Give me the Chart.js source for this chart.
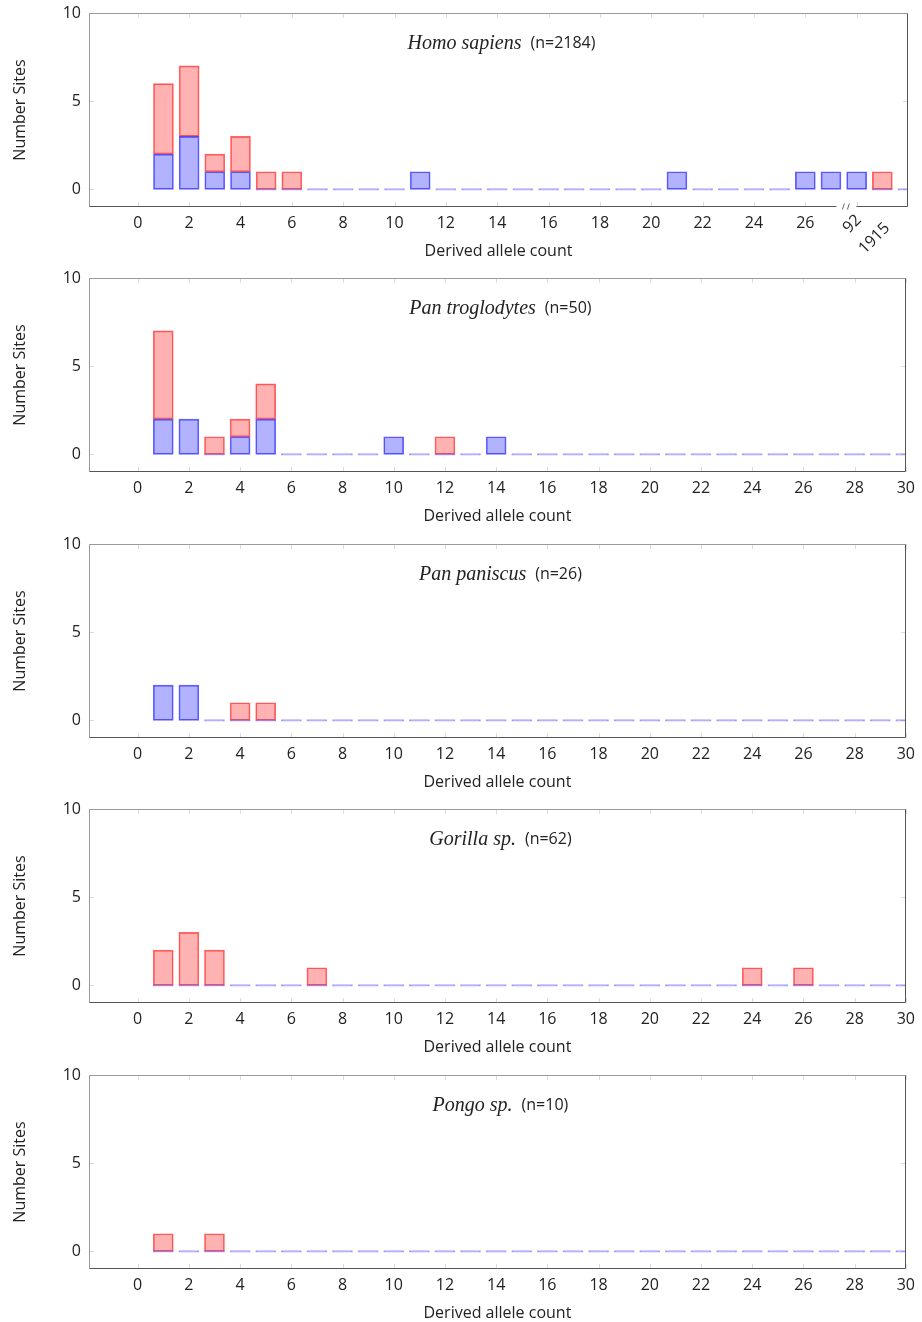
<!DOCTYPE html>
<html>
<head>
<meta charset="utf-8">
<script src="https://cdn.jsdelivr.net/npm/chart.js@4.4.1/dist/chart.umd.min.js"></script>
<style>
  html, body { margin: 0; padding: 0; background: #fff; }
  .panel { position: absolute; left: 0; width: 922px; height: 265px; }
</style>
</head>
<body>
<div class="panel" style="top:0px"><canvas id="c0" width="922" height="265"></canvas></div>
<div class="panel" style="top:265px"><canvas id="c1" width="922" height="265"></canvas></div>
<div class="panel" style="top:531px"><canvas id="c2" width="922" height="265"></canvas></div>
<div class="panel" style="top:796px"><canvas id="c3" width="922" height="265"></canvas></div>
<div class="panel" style="top:1062px"><canvas id="c4" width="922" height="265"></canvas></div>
<script>
// bin positions (derived allele count) and axis ticks
const positions = [1, 2, 3, 4, 5, 6, 7, 8, 9, 10, 11, 12, 13, 14, 15, 16, 17, 18, 19, 20, 21, 22, 23, 24, 25, 26, 27, 28, 29, 30];
const xTickValues = [0, 2, 4, 6, 8, 10, 12, 14, 16, 18, 20, 22, 24, 26, 28, 30];
const xTickValuesBroken = [0, 2, 4, 6, 8, 10, 12, 14, 16, 18, 20, 22, 24, 26, 28];
const yTickValues = [0, 5, 10];
// top panel: positions 28 and 29 stand for much higher counts
const brokenTickValues = [28, 29];
const brokenTickLabels = ["92", "1915"];

const speciesNames = ["Homo sapiens", "Pan troglodytes", "Pan paniscus", "Gorilla sp.", "Pongo sp."];
const sampleSizes = ["(n=2184)", "(n=50)", "(n=26)", "(n=62)", "(n=10)"];

// blue = lower stack, red = upper stack
const homoBlue = [2, 3, 1, 1, 0, 0, 0, 0, 0, 0, 1, 0, 0, 0, 0, 0, 0, 0, 0, 0, 1, 0, 0, 0, 0, 1, 1, 1, 0, 0];
const homoRed  = [4, 4, 1, 2, 1, 1, 0, 0, 0, 0, 0, 0, 0, 0, 0, 0, 0, 0, 0, 0, 0, 0, 0, 0, 0, 0, 0, 0, 1, 0];
const panTroBlue = [2, 2, 0, 1, 2, 0, 0, 0, 0, 1, 0, 0, 0, 1, 0, 0, 0, 0, 0, 0, 0, 0, 0, 0, 0, 0, 0, 0, 0, 0];
const panTroRed  = [5, 0, 1, 1, 2, 0, 0, 0, 0, 0, 0, 1, 0, 0, 0, 0, 0, 0, 0, 0, 0, 0, 0, 0, 0, 0, 0, 0, 0, 0];
const panPanBlue = [2, 2, 0, 0, 0, 0, 0, 0, 0, 0, 0, 0, 0, 0, 0, 0, 0, 0, 0, 0, 0, 0, 0, 0, 0, 0, 0, 0, 0, 0];
const panPanRed  = [0, 0, 0, 1, 1, 0, 0, 0, 0, 0, 0, 0, 0, 0, 0, 0, 0, 0, 0, 0, 0, 0, 0, 0, 0, 0, 0, 0, 0, 0];
const gorillaBlue = [0, 0, 0, 0, 0, 0, 0, 0, 0, 0, 0, 0, 0, 0, 0, 0, 0, 0, 0, 0, 0, 0, 0, 0, 0, 0, 0, 0, 0, 0];
const gorillaRed  = [2, 3, 2, 0, 0, 0, 1, 0, 0, 0, 0, 0, 0, 0, 0, 0, 0, 0, 0, 0, 0, 0, 0, 1, 0, 1, 0, 0, 0, 0];
const pongoBlue = [0, 0, 0, 0, 0, 0, 0, 0, 0, 0, 0, 0, 0, 0, 0, 0, 0, 0, 0, 0, 0, 0, 0, 0, 0, 0, 0, 0, 0, 0];
const pongoRed  = [1, 0, 1, 0, 0, 0, 0, 0, 0, 0, 0, 0, 0, 0, 0, 0, 0, 0, 0, 0, 0, 0, 0, 0, 0, 0, 0, 0, 0, 0];

const SANS = "'Open Sans', 'Noto Sans', sans-serif";
const SERIF = "'Liberation Serif', 'DejaVu Serif', serif";
const TEXT = "#222";

// frame, inner tick marks, axis break, panel title
const framePlugin = {
  id: "frame",
  beforeDatasetsDraw(chart) {
    const { ctx, chartArea: a, scales: { x, y } } = chart;
    ctx.save();
    ctx.strokeStyle = "#dcdcdc";
    ctx.lineWidth = 1;
    ctx.beginPath();
    for (const t of x.ticks) {
      const px = Math.round(x.getPixelForValue(t.value)) + 0.5;
      ctx.moveTo(px, a.top); ctx.lineTo(px, a.top + 5);
      ctx.moveTo(px, a.bottom); ctx.lineTo(px, a.bottom - 5);
    }
    for (const t of y.ticks) {
      const py = Math.round(y.getPixelForValue(t.value)) + 0.5;
      ctx.moveTo(a.left, py); ctx.lineTo(a.left + 5, py);
      ctx.moveTo(a.right, py); ctx.lineTo(a.right - 5, py);
    }
    ctx.stroke();
    ctx.restore();
  },
  afterDatasetsDraw(chart, args, opts) {
    const { ctx, chartArea: a, scales: { x } } = chart;
    const L = Math.round(a.left) + 0.5, R = Math.round(a.right) - 0.5;
    const T = Math.round(a.top) + 0.5, B = Math.round(a.bottom) - 0.5;
    ctx.save();
    ctx.lineWidth = 1;
    ctx.strokeStyle = "#9a9a9a";
    ctx.beginPath();
    ctx.moveTo(L, B); ctx.lineTo(L, T); ctx.lineTo(R, T);
    ctx.stroke();
    ctx.strokeStyle = "#555";
    ctx.beginPath();
    ctx.moveTo(R, T); ctx.lineTo(R, B);
    if (opts.broken) {
      const bx = x.getPixelForValue(27.6);
      ctx.lineTo(bx + 10, B);
      ctx.moveTo(bx - 10, B); ctx.lineTo(L, B);
    } else {
      ctx.lineTo(L, B);
    }
    ctx.stroke();

    if (opts.broken) {
      const bx = x.getPixelForValue(27.6);
      ctx.strokeStyle = "#666";
      ctx.beginPath();
      ctx.moveTo(bx - 4, B + 3); ctx.lineTo(bx - 2, B - 3);
      ctx.moveTo(bx + 1, B + 3); ctx.lineTo(bx + 3, B - 3);
      ctx.stroke();
      ctx.fillStyle = TEXT;
      ctx.font = "16px " + SANS;
      ctx.textAlign = "right";
      ctx.textBaseline = "middle";
      brokenTickValues.forEach((v, i) => {
        const px = x.getPixelForValue(v);
        ctx.save();
        ctx.translate(px + 2 + 3 * i, B + 11 + 8 * i);
        ctx.rotate(-Math.PI / 4);
        ctx.fillText(brokenTickLabels[i], 0, 0);
        ctx.restore();
      });
    }

    // title: italic species name + sample size
    const cx = (a.left + a.right) / 2 + 3;
    const ty = a.top + 30;
    ctx.textBaseline = "alphabetic";
    ctx.textAlign = "left";
    const f1 = "italic 20px " + SERIF, f2 = "16px " + SANS;
    ctx.font = f1; const w1 = ctx.measureText(opts.name).width;
    ctx.font = f2; const w2 = ctx.measureText(opts.n).width;
    const gap = 9;
    const sx = cx - (w1 + gap + w2) / 2;
    ctx.fillStyle = TEXT;
    ctx.font = f1; ctx.fillText(opts.name, sx, ty + 6);
    ctx.font = f2; ctx.fillText(opts.n, sx + w1 + gap, ty + 5);
    ctx.restore();
  }
};

function makePanel(id, idx, blue, red, broken) {
  const tickVals = broken ? xTickValuesBroken : xTickValues;
  new Chart(document.getElementById(id), {
    type: "bar",
    data: {
      datasets: [
        {
          data: positions.map((p, i) => ({ x: p, y: blue[i] })),
          backgroundColor: "rgba(0,0,255,0.3)",
          // empty bins show as a thin lavender dash
          borderColor: c => (c.raw && c.raw.y === 0) ? "rgba(110,85,245,0.55)" : "rgba(0,0,255,0.6)",
          borderWidth: 1,
          borderSkipped: false,
          minBarLength: 1.4,
          barThickness: 20,
          clip: 0
        },
        {
          data: positions.map((p, i) => ({ x: p, y: red[i] })),
          backgroundColor: "rgba(255,0,0,0.3)",
          borderColor: "rgba(255,0,0,0.6)",
          borderWidth: 1,
          borderSkipped: false,
          barThickness: 20,
          clip: 0
        }
      ]
    },
    options: {
      responsive: false,
      animation: false,
      events: [],
      layout: { padding: { top: 13, right: 14, left: 0, bottom: 0 } },
      plugins: {
        legend: { display: false },
        tooltip: { enabled: false },
        frame: { broken: broken, name: speciesNames[idx], n: sampleSizes[idx] }
      },
      scales: {
        x: {
          type: "linear",
          stacked: true,
          offset: false,
          min: -1.9,
          max: 30,
          afterBuildTicks: s => { s.ticks = tickVals.map(v => ({ value: v })); },
          afterFit: s => { s.height = 58; },
          grid: { display: false, drawTicks: false },
          border: { display: false },
          ticks: {
            autoSkip: false, maxRotation: 0, padding: 7,
            color: TEXT, font: { family: SANS, size: 16 },
            callback: v => (broken && v === 28) ? "" : String(v)
          },
          title: {
            display: true, text: "Derived allele count", color: TEXT,
            font: { family: SANS, size: 16 }, padding: { top: 0, bottom: 4 }
          }
        },
        y: {
          type: "linear",
          stacked: true,
          min: -1,
          max: 10,
          afterBuildTicks: s => { s.ticks = yTickValues.map(v => ({ value: v })); },
          afterFit: s => { s.width = 89; s.paddingTop = 0; s.paddingBottom = 0; },
          grid: { display: false, drawTicks: false },
          border: { display: false },
          ticks: { padding: 8, color: TEXT, font: { family: SANS, size: 16 } },
          title: {
            display: true, text: "Number Sites", color: TEXT,
            font: { family: SANS, size: 16 }, padding: { top: 11, bottom: 0 }
          }
        }
      }
    },
    plugins: [framePlugin]
  });
}

makePanel("c0", 0, homoBlue, homoRed, true);
makePanel("c1", 1, panTroBlue, panTroRed, false);
makePanel("c2", 2, panPanBlue, panPanRed, false);
makePanel("c3", 3, gorillaBlue, gorillaRed, false);
makePanel("c4", 4, pongoBlue, pongoRed, false);
</script>
</body>
</html>
